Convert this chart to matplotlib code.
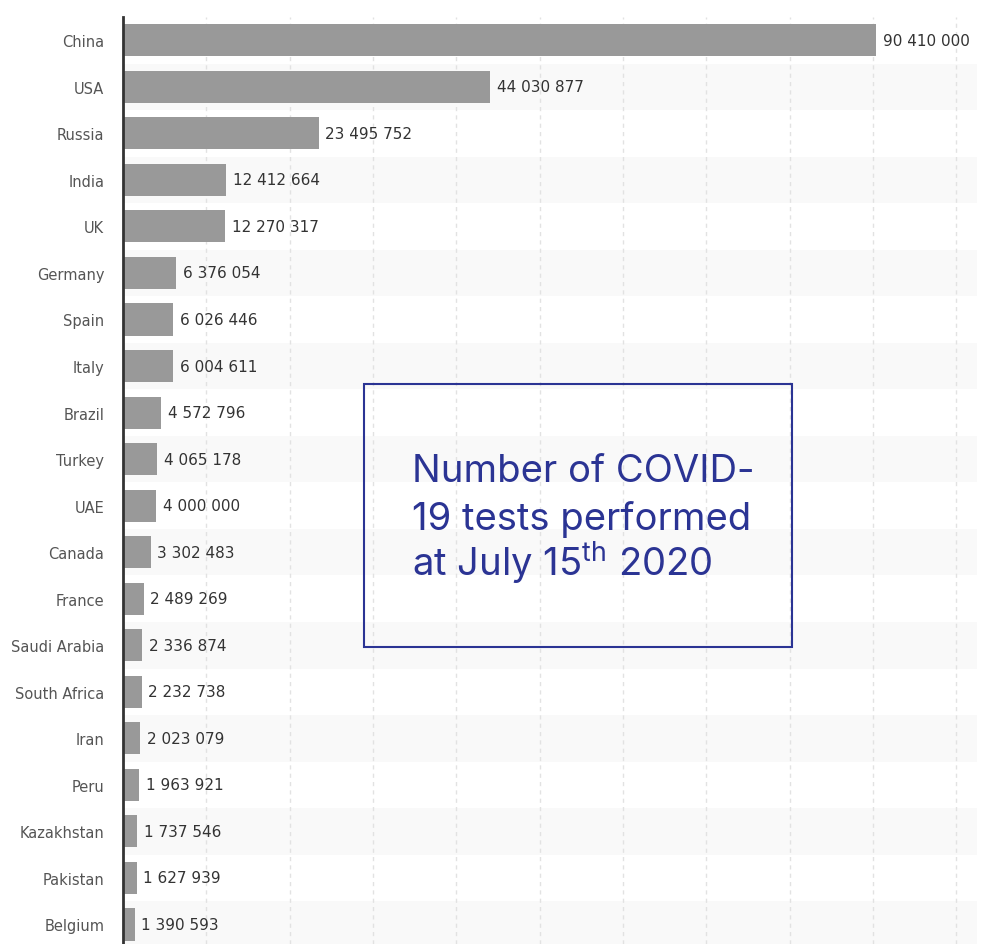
import matplotlib
matplotlib.use("Agg")
import matplotlib.pyplot as plt
from matplotlib.patches import Rectangle

# data
countries = ["China", "USA", "Russia", "India", "UK", "Germany", "Spain", "Italy",
             "Brazil", "Turkey", "UAE", "Canada", "France", "Saudi Arabia",
             "South Africa", "Iran", "Peru", "Kazakhstan", "Pakistan", "Belgium"]
tests = [90410000, 44030877, 23495752, 12412664, 12270317, 6376054, 6026446,
         6004611, 4572796, 4065178, 4000000, 3302483, 2489269, 2336874,
         2232738, 2023079, 1963921, 1737546, 1627939, 1390593]
title_lines = ["Number of COVID-", "19 tests performed", "at July 15$^{\\mathrm{th}}$ 2020"]

plt.rcParams["font.family"] = ["DejaVu Sans"]
plt.rcParams["mathtext.fontset"] = "custom"
plt.rcParams["mathtext.rm"] = "Inter"

W, H = 987, 945
fig = plt.figure(figsize=(W / 100, H / 100), dpi=100)
ax = fig.add_axes([123 / W, 0, (977 - 123) / W, (945 - 18) / H])

ypos = list(range(len(countries)))

# alternating row stripes
for i in ypos:
    if i % 2 == 1:
        ax.axhspan(i - 0.5, i + 0.5, color="#f9f9f9", zorder=0, lw=0)

ax.barh(ypos, tests, height=0.69, color="#999999", zorder=2)

for y, v in zip(ypos, tests):
    label = f"{v:,}".replace(",", " ")
    ax.text(v + 0.8e6, y, label, va="center", ha="left", fontsize=11,
            color="#333333", zorder=3)

ax.set_xlim(0, 102.5e6)
ax.set_ylim(19.42, -0.5)
ax.set_yticks(ypos)
ax.set_yticklabels(countries, fontsize=10.5, color="#555555")
ax.tick_params(axis="y", length=0, pad=13.5)
ax.set_xticks([i * 10e6 for i in range(1, 11)])
ax.tick_params(axis="x", length=0, labelbottom=False)
ax.grid(axis="x", color="#e2e2e2", linestyle=(0, (3, 3)), lw=1, zorder=1)
ax.set_axisbelow(True)

for s in ["top", "right", "bottom"]:
    ax.spines[s].set_visible(False)
ax.spines["left"].set_color("#333333")
ax.spines["left"].set_linewidth(2)
ax.spines["left"].set_zorder(4)

# annotation box
navy = "#2b3494"
fig.patches.append(Rectangle((364 / W, (H - 648) / H), 428 / W, 263 / H,
                             transform=fig.transFigure, fill=False,
                             edgecolor=navy, lw=1.5, zorder=10))
for line, yb in zip(title_lines, [482, 530, 577]):
    fig.text(412 / W, (H - yb) / H, line, fontsize=27.5, family="Inter",
             color=navy, va="baseline", ha="left", zorder=11)

fig.savefig("out.png", dpi=100)
